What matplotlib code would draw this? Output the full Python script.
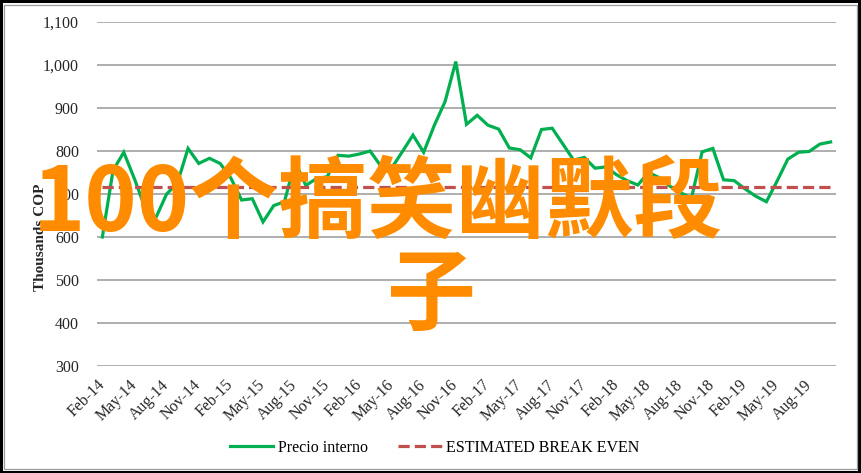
import matplotlib

matplotlib.use("Agg")
import matplotlib.pyplot as plt
import numpy as np
import pandas as pd
from matplotlib.patches import Rectangle

# monthly internal price, Feb-14 .. Oct-19 (thousands COP)
MONTHS = pd.date_range("2014-02-01", periods=69, freq="MS").strftime("%b-%y").tolist()
PRECIO = [
    600, 755, 797, 735, 667, 645, 700, 725, 806, 771, 783, 771,
    737, 686, 689, 635, 673, 682, 775, 720, 736, 740, 790, 788,
    793, 800, 765, 760, 798, 837, 797, 860, 915, 1008, 862, 883,
    860, 851, 807, 803, 784, 850, 853, 816, 779, 785, 760, 763,
    745, 731, 721, 750, 738, 718, 703, 690, 798, 806, 733, 731,
    712, 695, 682, 730, 781, 797, 799, 816, 821,
]
BREAK_EVEN = 716
Y_TICKS = [300, 400, 500, 600, 700, 800, 900, 1000, 1100]
Y_TICK_LABELS = ["300", "400", "500", "600", "700", "800", "900", "1,000", "1,100"]

GREEN = "#00B050"
RED = "#C0504D"
SERIF = ["Liberation Serif", "DejaVu Serif"]

plt.rcParams.update({"font.family": SERIF, "font.size": 11})

W, H = 862, 473
fig = plt.figure(figsize=(W / 100, H / 100), dpi=100)
ax = fig.add_axes([97 / W, 1 - 366 / H, (836 - 97) / W, (366 - 22) / H])

x = np.arange(len(PRECIO))
ax.plot(x, PRECIO, color=GREEN, lw=2.3, label="Precio interno", zorder=3,
        solid_joinstyle="miter")
ax.plot(x, [BREAK_EVEN] * len(x), color=RED, lw=2.3, dashes=(3.5, 1.6),
        label="ESTIMATED BREAK EVEN", zorder=3)

ax.set_xlim(-0.5, len(x) - 0.5)
ax.set_ylim(Y_TICKS[0], Y_TICKS[-1])
ax.set_yticks(Y_TICKS)
ax.set_yticklabels(Y_TICK_LABELS)
ax.set_xticks(x[::3])
ax.set_xticklabels(MONTHS[::3], rotation=45, ha="right", va="center",
                   rotation_mode="anchor")
ax.tick_params(axis="both", length=0, colors="#262626", labelsize=11.5)
ax.tick_params(axis="y", pad=13)
ax.tick_params(axis="x", pad=12)
ax.grid(axis="y", color="#999999", lw=1.1)
ax.grid(axis="x", visible=False)
for side in ax.spines.values():
    side.set_visible(False)

fig.text(41 / W, 1 - 237 / H, "Thousands COP", rotation=90, ha="center",
         va="center", fontsize=11, fontweight="bold", color="#262626")

fig.legend(loc="center", bbox_to_anchor=(435 / W, 1 - 448 / H), ncol=2,
           frameon=False, handlelength=2.7, handletextpad=0.3,
           columnspacing=1.9, fontsize=11.5)

# outer frame
fig.patches.append(Rectangle((0.001, 0.002), 0.996, 0.995, transform=fig.transFigure,
                             fill=False, ec="black", lw=2.2))
fig.patches.append(Rectangle((4 / W, 4 / H), 1 - 9 / W, 1 - 9 / H,
                             transform=fig.transFigure, fill=False,
                             ec="#9a9a9a", lw=0.9))

# overlaid watermark text
cjk = ["Noto Sans CJK SC", "DejaVu Sans"]
fig.text(378 / W, 1 - 205 / H, "100个搞笑幽默段", ha="center", va="center",
         fontsize=64, fontweight="bold", color="#FF8C00", family=cjk, zorder=10)
fig.text(431 / W, 1 - 297 / H, "子", ha="center", va="center",
         fontsize=64, fontweight="bold", color="#FF8C00", family=cjk, zorder=10)

fig.savefig("out.png", dpi=100)
